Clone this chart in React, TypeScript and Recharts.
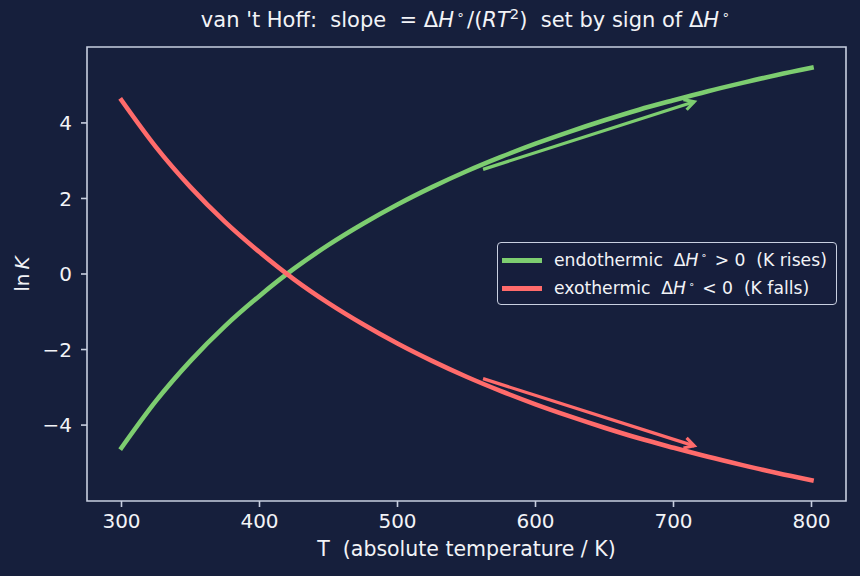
import React from 'react';
import { LineChart, Line, XAxis, YAxis, ReferenceArea, ReferenceLine } from 'recharts';

const temperatures = [300, 325, 350, 375, 400, 425, 450, 475, 500, 525, 550, 575, 600, 625, 650, 675, 700, 725, 750, 775, 800];
const endothermicLnK = [-4.60, -3.36, -2.30, -1.38, -0.58, 0.14, 0.77, 1.33, 1.84, 2.30, 2.72, 3.10, 3.45, 3.77, 4.07, 4.35, 4.60, 4.84, 5.06, 5.27, 5.46];
const exothermicLnK = [4.60, 3.36, 2.30, 1.38, 0.58, -0.14, -0.77, -1.33, -1.84, -2.30, -2.72, -3.10, -3.45, -3.77, -4.07, -4.35, -4.60, -4.84, -5.06, -5.27, -5.46];
const xTicks = [300, 400, 500, 600, 700, 800];
const yTicks = [-4, -2, 0, 2, 4];
const endoArrow = [{ x: 562, y: 2.77 }, { x: 715, y: 4.56 }];
const exoArrow = [{ x: 562, y: -2.77 }, { x: 715, y: -4.55 }];

const BG = '#161f3c';
const FRAME = '#c8cfe0';
const TEXT = '#f2f3f7';
const GREEN = '#7dcd70';
const RED = '#ff6b6b';
const FONT = '"DejaVu Sans", sans-serif';

const rows = temperatures.map((T, i) => ({ T, endo: endothermicLnK[i], exo: exothermicLnK[i] }));

const fmt = (v: number) => (v < 0 ? '\u2212' + Math.abs(v) : String(v));

const arrowShape = (color: string) => (props: any) => {
  const { x1, y1, x2, y2 } = props;
  const ang = Math.atan2(y2 - y1, x2 - x1);
  const L = 11;
  const spread = 0.5;
  const ax = x2 - L * Math.cos(ang - spread);
  const ay = y2 - L * Math.sin(ang - spread);
  const bx = x2 - L * Math.cos(ang + spread);
  const by = y2 - L * Math.sin(ang + spread);
  return (
    <g>
      <line x1={x1} y1={y1} x2={x2} y2={y2} stroke={color} strokeWidth={3.2} strokeLinecap="butt" />
      <polyline points={`${ax},${ay} ${x2},${y2} ${bx},${by}`} fill="none" stroke={color} strokeWidth={3.2} strokeLinejoin="miter" />
    </g>
  );
};

const Deg = () => (
  <sup style={{ fontSize: '0.62em', lineHeight: 0, margin: '0 0.18em 0 0.2em' }}>{'\u2218'}</sup>
);

const legendItems = [
  { color: GREEN, pre: 'endothermic  \u0394', op: ' > 0  (K rises)' },
  { color: RED, pre: 'exothermic  \u0394', op: ' < 0  (K falls)' },
];

export default function App() {
  return (
    <div style={{ position: 'absolute', left: 0, top: 0, width: 860, height: 576, background: BG, fontFamily: FONT, overflow: 'hidden' }}>
      <div style={{ position: 'absolute', left: 87, top: 6, width: 759, textAlign: 'center', color: TEXT, fontSize: 21, lineHeight: '28px', whiteSpace: 'pre' }}>
        {"van 't Hoff:  slope  = \u0394"}<i>H</i><Deg />{'/('}<i>RT</i><sup style={{ fontSize: '0.7em', lineHeight: 0 }}>2</sup>{')  set by sign of \u0394'}<i>H</i><Deg />
      </div>
      <LineChart width={860} height={576} data={rows} margin={{ top: 47, right: 14, bottom: 45, left: 27 }} style={{ position: 'absolute', left: 0, top: 0 }}>
        <ReferenceArea x1={275} x2={825} y1={-6.01} y2={6.01} fill="none" stroke={FRAME} strokeWidth={1.6} ifOverflow="visible" />
        <XAxis
          dataKey="T"
          type="number"
          domain={[275, 825]}
          ticks={xTicks}
          allowDataOverflow
          axisLine={false}
          tickLine={{ stroke: FRAME, strokeWidth: 1.6 }}
          tickSize={6}
          tickMargin={7}
          height={30}
          tick={{ fill: TEXT, fontSize: 20, fontFamily: FONT }}
          label={{
            content: (p: any) => {
              const vb = p.viewBox;
              return (
                <text x={vb.x + vb.width / 2} y={vb.y + 48} textAnchor="middle" dominantBaseline="central" fill={TEXT} fontSize={20.5} fontFamily={FONT} style={{ whiteSpace: 'pre' }}>
                  {'T  (absolute temperature / K)'}
                </text>
              );
            },
          }}
        />
        <YAxis
          type="number"
          domain={[-6.01, 6.01]}
          ticks={yTicks}
          allowDataOverflow
          axisLine={false}
          tickLine={{ stroke: FRAME, strokeWidth: 1.6 }}
          tickSize={6}
          tickMargin={9}
          width={60}
          tickFormatter={fmt}
          tick={{ fill: TEXT, fontSize: 20, fontFamily: FONT }}
          label={{
            content: (p: any) => {
              const vb = p.viewBox;
              const cx = vb.x - 5;
              const cy = vb.y + vb.height / 2;
              return (
                <text x={cx} y={cy} transform={`rotate(-90 ${cx} ${cy})`} textAnchor="middle" dominantBaseline="central" fill={TEXT} fontSize={20} fontFamily={FONT}>
                  {'ln\u2009'}<tspan fontStyle="italic">K</tspan>
                </text>
              );
            },
          }}
        />
        <Line dataKey="endo" type="monotone" stroke={GREEN} strokeWidth={4.6} dot={false} isAnimationActive={false} strokeLinecap="square" />
        <Line dataKey="exo" type="monotone" stroke={RED} strokeWidth={4.6} dot={false} isAnimationActive={false} strokeLinecap="square" />
        <ReferenceLine segment={endoArrow} ifOverflow="visible" shape={arrowShape(GREEN)} />
        <ReferenceLine segment={exoArrow} ifOverflow="visible" shape={arrowShape(RED)} />
      </LineChart>
      <div style={{ position: 'absolute', left: 497, top: 242, width: 340, height: 63, border: `1.6px solid ${FRAME}`, borderRadius: 4, background: 'rgba(22,31,60,0.85)', boxSizing: 'border-box' }}>
        {legendItems.map((it, i) => (
          <div key={i} style={{ position: 'absolute', left: 4, top: 5 + i * 28.4, height: 24, display: 'flex', alignItems: 'center', whiteSpace: 'pre', color: TEXT, fontSize: 17.2 }}>
            <span style={{ display: 'inline-block', width: 40, height: 5, background: it.color, marginRight: 12 }} />
            <span>{it.pre}<i>H</i><Deg />{it.op}</span>
          </div>
        ))}
      </div>
    </div>
  );
}
